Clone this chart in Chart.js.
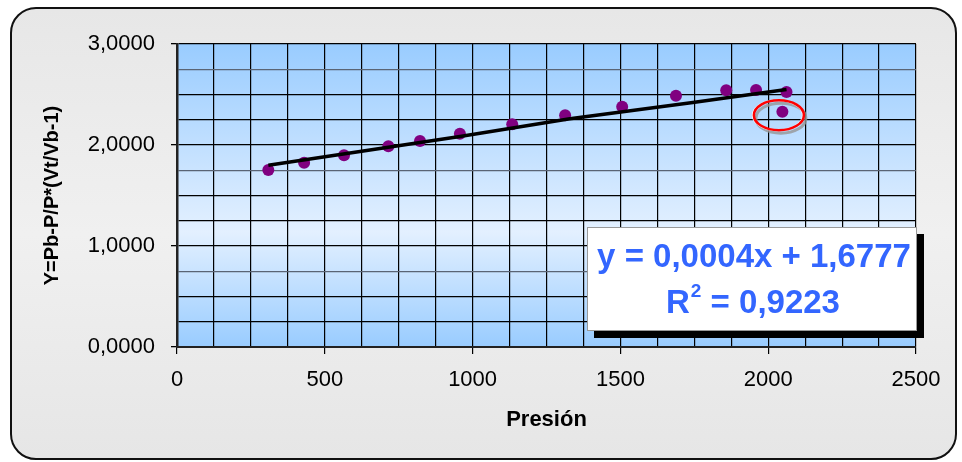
<!DOCTYPE html>
<html><head><meta charset="utf-8">
<script src="https://cdn.jsdelivr.net/npm/chart.js@4.4.1/dist/chart.umd.min.js"></script>
<style>
html,body{margin:0;padding:0;background:#fff;}
#wrap{position:relative;width:962px;height:462px;overflow:hidden;}
#frame{position:absolute;left:10px;top:7px;width:943px;height:449px;border:2px solid #111;border-radius:26px;background:linear-gradient(180deg,#e7e7e7 0%,#f0f0f0 50%,#e6e6e6 100%);}
canvas{position:absolute;left:0;top:0;}
</style></head><body>
<div id="wrap"><div id="frame"></div><canvas id="c" width="962" height="462"></canvas></div>
<script>
// Data
const presion = [309, 430, 565, 715, 822, 957, 1134, 1313, 1506, 1688, 1858, 1959, 2062, 2048];
const yValues = [1.752, 1.825, 1.898, 1.987, 2.040, 2.112, 2.205, 2.294, 2.379, 2.488, 2.541, 2.545, 2.525, 2.330];
const trendX = [309, 957, 1329, 1745, 2062];
const trendY = [1.80, 2.085, 2.26, 2.42, 2.55];
const outlierIndex = 13;
const xTickValues = [0, 500, 1000, 1500, 2000, 2500];
const xTickLabels = ['0', '500', '1000', '1500', '2000', '2500'];
const yTickValues = [0, 1, 2, 3];
const yTickLabels = ['0,0000', '1,0000', '2,0000', '3,0000'];
const xTitle = 'Presión';
const yTitle = 'Y=Pb-P/P*(Vt/Vb-1)';
const eqLine1 = 'y = 0,0004x + 1,6777';
const eqR = 'R';
const eqSup = '2';
const eqRest = ' = 0,9223';

const FONT = '"Liberation Sans", Arial, sans-serif';
const near = (v, list) => list.findIndex(t => Math.abs(t - v) < 1e-6);

const decor = {
  id: 'decor',
  beforeDraw(chart) {
    const {ctx, chartArea: a} = chart;
    const g = ctx.createLinearGradient(0, a.top, 0, a.bottom);
    g.addColorStop(0, '#99CCFF');
    g.addColorStop(0.62, '#E3F0FF');
    g.addColorStop(1, '#99CCFF');
    ctx.save();
    ctx.fillStyle = g;
    ctx.fillRect(a.left, a.top, a.right - a.left, a.bottom - a.top);
    ctx.restore();
  },
  afterDraw(chart) {
    const {ctx, chartArea: a, scales} = chart;
    // highlight ellipse around outlier
    const px = scales.x.getPixelForValue(presion[outlierIndex]) - 3.5;
    const py = scales.y.getPixelForValue(yValues[outlierIndex]) + 3.5;
    ctx.save();
    ctx.lineWidth = 3;
    ctx.strokeStyle = 'rgba(150,150,150,0.8)';
    ctx.beginPath(); ctx.ellipse(px + 2, py + 3, 25, 15, 0, 0, Math.PI * 2); ctx.stroke();
    ctx.strokeStyle = 'rgba(255,255,255,0.9)';
    ctx.lineWidth = 2;
    ctx.beginPath(); ctx.ellipse(px - 1, py, 25, 15, 0, 0, Math.PI * 2); ctx.stroke();
    ctx.strokeStyle = '#FF0000';
    ctx.lineWidth = 2.5;
    ctx.beginPath(); ctx.ellipse(px, py, 25, 15, 0, 0, Math.PI * 2); ctx.stroke();
    ctx.restore();

    // equation box
    const bw = 330, bh = 104;
    const bx = a.right + 1 - bw;
    const by = a.top + 183;
    ctx.save();
    ctx.fillStyle = '#000';
    ctx.fillRect(bx + 7, by + 7, bw, bh);
    ctx.fillStyle = '#fff';
    ctx.fillRect(bx, by, bw, bh);
    ctx.strokeStyle = '#999';
    ctx.lineWidth = 1;
    ctx.strokeRect(bx + 0.5, by + 0.5, bw - 1, bh - 1);
    ctx.fillStyle = '#3366FF';
    ctx.textBaseline = 'middle';
    ctx.textAlign = 'center';
    ctx.font = 'bold 33px ' + FONT;
    ctx.fillText(eqLine1, bx + 167, by + 31);
    ctx.textAlign = 'left';
    const wR = ctx.measureText(eqR).width;
    const wRest = ctx.measureText(eqRest).width;
    ctx.font = 'bold 19px ' + FONT;
    const wSup = ctx.measureText(eqSup).width + 1;
    const total = wR + wSup + wRest;
    let x0 = bx + 166 - total / 2;
    const y2 = by + 77;
    ctx.font = 'bold 33px ' + FONT;
    ctx.fillText(eqR, x0, y2);
    ctx.font = 'bold 19px ' + FONT;
    ctx.fillText(eqSup, x0 + wR + 1, y2 - 12);
    ctx.font = 'bold 33px ' + FONT;
    ctx.fillText(eqRest, x0 + wR + wSup, y2);
    ctx.restore();
  }
};

new Chart(document.getElementById('c'), {
  type: 'scatter',
  data: {
    datasets: [
      {
        type: 'line',
        label: 'trend',
        data: trendX.map((x, i) => ({x, y: trendY[i]})),
        borderColor: '#000',
        borderWidth: 3.5,
        pointRadius: 0,
        tension: 0,
        fill: false,
        order: 0
      },
      {
        label: 'datos',
        data: presion.map((x, i) => ({x, y: yValues[i]})),
        backgroundColor: '#800080',
        borderColor: '#800080',
        pointRadius: 6,
        pointBorderWidth: 0,
        order: 1
      }
    ]
  },
  plugins: [decor],
  options: {
    responsive: false,
    animation: false,
    events: [],
    layout: {padding: {left: 20, top: 44, right: 46, bottom: 0}},
    plugins: {legend: {display: false}, tooltip: {enabled: false}},
    scales: {
      x: {
        type: 'linear', min: 0, max: 2500,
        afterFit(s) { s.height = 115; },
        border: {display: true, color: '#222', width: 2},
        grid: {
          color: '#000', lineWidth: 1.2, tickLength: 7,
          tickColor: c => near(c.tick.value, xTickValues) >= 0 ? '#000' : 'rgba(0,0,0,0)'
        },
        ticks: {
          stepSize: 125, autoSkip: false, maxRotation: 0, padding: 13,
          color: '#000', font: {family: FONT, size: 22},
          callback: v => { const i = near(v, xTickValues); return i >= 0 ? xTickLabels[i] : ''; }
        },
        title: {display: true, text: xTitle, color: '#000', font: {family: FONT, size: 22, weight: 'bold'}, padding: {bottom: 29}}
      },
      y: {
        type: 'linear', min: 0, max: 3,
        afterFit(s) { s.width = 157; },
        border: {display: true, color: '#222', width: 2.5},
        grid: {
          lineWidth: 1.3, tickLength: 6,
          color: c => Math.abs((c.tick.value % 1) - 0.75) < 1e-6 ? '#5a6474' : '#000',
          tickColor: c => near(c.tick.value, yTickValues) >= 0 ? '#000' : 'rgba(0,0,0,0)'
        },
        ticks: {
          stepSize: 0.25, autoSkip: false, padding: 16,
          color: '#000', font: {family: FONT, size: 22},
          callback: v => { const i = near(v, yTickValues); return i >= 0 ? yTickLabels[i] : ''; }
        },
        title: {display: true, text: yTitle, color: '#000', font: {family: FONT, size: 20, weight: 'bold'}, padding: {top: 20}}
      }
    }
  }
});
</script>
</body></html>
